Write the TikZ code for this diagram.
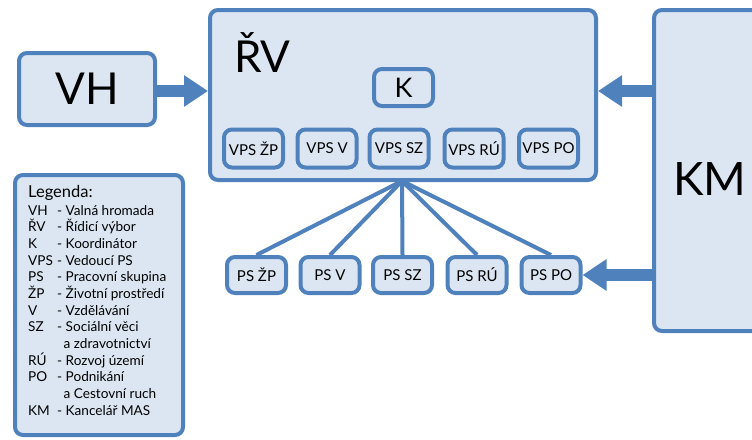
\documentclass[tikz,border=0pt]{standalone}
\usepackage{fontspec}
\setmainfont{Lato}
\usetikzlibrary{arrows.meta}
\definecolor{bord}{HTML}{4F81BD}
\definecolor{fillc}{HTML}{DCE6F2}
\begin{document}
\begin{tikzpicture}[x=1pt,y=-1pt,
  box/.style={draw=bord, fill=fillc, line width=4pt, rounded corners=8pt, inner sep=0pt},
  small/.style={box, minimum width=59pt, minimum height=38pt, font=\fontsize{15}{18}\selectfont},
  psbox/.style={box, minimum width=59pt, minimum height=36pt, font=\fontsize{15}{18}\selectfont},
  link/.style={draw=bord, line width=4pt},
  bigarrow/.style={draw=bord, line width=12pt, -{Triangle[width=30pt,length=24pt,fill=bord]}},
  lg/.style={anchor=base west, inner sep=0pt, font=\fontsize{13.6}{16}\selectfont}]
\useasboundingbox (0,0) rectangle (752,439);

% main boxes
\node[box, minimum width=136pt, minimum height=72pt, font=\fontsize{44}{50}\selectfont] (vh) at (87,89) {VH};
\node[box, minimum width=386pt, minimum height=170pt] (rv) at (403,95) {};
\node[anchor=base west, inner sep=0pt, font=\fontsize{44}{50}\selectfont] (rvt) at (234,72) {ŘV};
\node[box, minimum width=59pt, minimum height=37pt, font=\fontsize{27}{30}\selectfont] (k) at (403.5,87.5) {K};
\node[box, minimum width=148pt, minimum height=321pt] (km) at (728,170.5) {};
\node[inner sep=0pt, font=\fontsize{46}{50}\selectfont] (kmt) at (710,179) {KM};

% VPS boxes
\node[small] (vzp) at (253.5,148.5) {VPS ŽP};
\node[small] (vv)  at (327,148.5) {VPS V};
\node[small] (vsz) at (399,148.5) {VPS SZ};
\node[small] (vru) at (474,148.5) {VPS RÚ};
\node[small] (vpo) at (548.5,148.5) {VPS PO};

% PS boxes
\node[psbox] (pzp) at (256.5,275) {PS ŽP};
\node[psbox] (pv)  at (330,275) {PS V};
\node[psbox] (psz) at (402.5,275) {PS SZ};
\node[psbox] (pru) at (477,275) {PS RÚ};
\node[psbox] (ppo) at (551,275) {PS PO};

% links
\coordinate (hub) at (402,181);
\foreach \t in {pzp,pv,psz,pru,ppo}
  \draw[link] (hub) -- (\t.north);

% arrows
\coordinate (ay) at (0,91);
\draw[bigarrow] (vh.east |- ay) -- (rv.west |- ay);
\draw[bigarrow] (km.west |- ay) -- (rv.east |- ay);
\draw[bigarrow] (km.west |- ppo.east) -- (ppo.east);

% legend
\node[box, minimum width=168pt, minimum height=260pt] (leg) at (99,305) {};
\node[anchor=base west, inner sep=0pt, font=\fontsize{16.5}{18}\selectfont] (legt) at (28,197.5) {Legenda:};
\node[lg] (a1) at (28,215) {VH};   \node[lg] (b1) at (57,215) {- Valná hromada};
\node[lg] (a2) at (28,231.7) {ŘV}; \node[lg] (b2) at (57,231.7) {- Řídicí výbor};
\node[lg] (a3) at (28,248.3) {K};  \node[lg] (b3) at (57,248.3) {- Koordinátor};
\node[lg] (a4) at (28,265) {VPS};  \node[lg] (b4) at (57,265) {- Vedoucí PS};
\node[lg] (a5) at (28,281.7) {PS}; \node[lg] (b5) at (57,281.7) {- Pracovní skupina};
\node[lg] (a6) at (28,298.3) {ŽP}; \node[lg] (b6) at (57,298.3) {- Životní prostředí};
\node[lg] (a7) at (28,315) {V};    \node[lg] (b7) at (57,315) {- Vzdělávání};
\node[lg] (a8) at (28,331.7) {SZ}; \node[lg] (b8) at (57,331.7) {- Sociální věci};
\node[lg] (b9) at (63.5,348.3) {a zdravotnictví};
\node[lg] (a10) at (28,365) {RÚ};  \node[lg] (b10) at (57,365) {- Rozvoj území};
\node[lg] (a11) at (28,381.7) {PO}; \node[lg] (b11) at (57,381.7) {- Podnikání};
\node[lg] (b12) at (63.5,398.3) {a Cestovní ruch};
\node[lg] (a13) at (28,415) {KM};  \node[lg] (b13) at (57,415) {- Kancelář MAS};
\end{tikzpicture}
\end{document}
